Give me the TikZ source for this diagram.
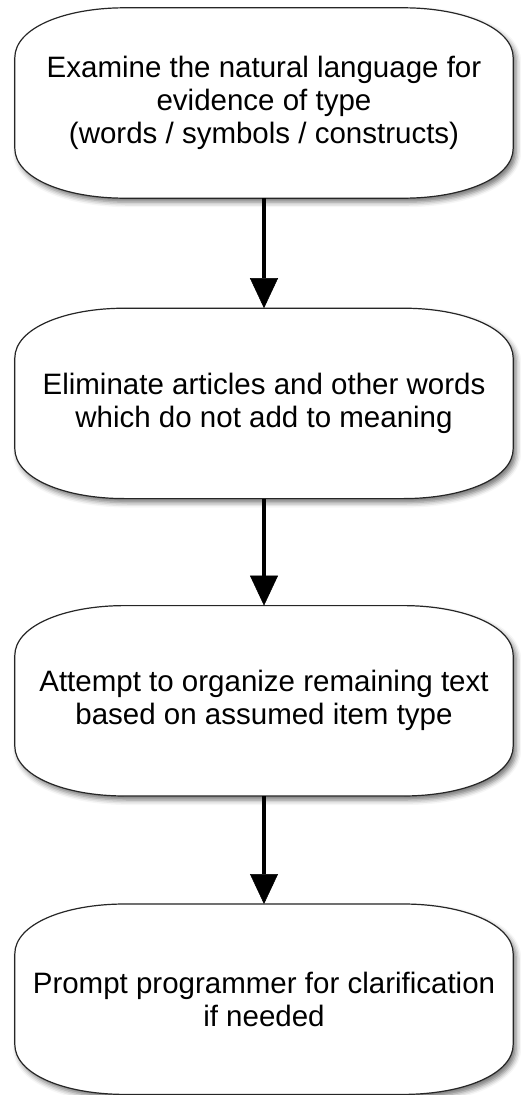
\documentclass[tikz,border=0pt]{standalone}
\usepackage{fontspec}
\setmainfont{Liberation Sans}
\usetikzlibrary{arrows.meta, positioning, shadows.blur}

% outline of a step box, drawn round a named node
\newcommand{\stepoutline}[1]{%
    \draw[stepline]
        ([xshift=110pt]#1.north west) -- ([xshift=-110pt]#1.north east)
        .. controls ([xshift=-50pt]#1.north east) and ([yshift=-20pt]#1.north east) .. ([yshift=-50pt]#1.north east)
        -- ([yshift=50pt]#1.south east)
        .. controls ([yshift=20pt]#1.south east) and ([xshift=-50pt]#1.south east) .. ([xshift=-110pt]#1.south east)
        -- ([xshift=110pt]#1.south west)
        .. controls ([xshift=50pt]#1.south west) and ([yshift=20pt]#1.south west) .. ([yshift=50pt]#1.south west)
        -- ([yshift=-50pt]#1.north west)
        .. controls ([yshift=-20pt]#1.north west) and ([xshift=50pt]#1.north west) .. cycle;
}

\tikzset{
    stepbox/.style={rectangle, minimum width=498pt, minimum height=190pt, inner sep=0pt,
        align=center, font=\fontsize{29.5pt}{33pt}\selectfont},
    stepline/.style={draw=black!85, line width=1.2pt, fill=white,
        blur shadow={shadow xshift=3pt, shadow yshift=-4pt, shadow blur radius=5pt, shadow opacity=55}},
    flow/.style={draw=black, line width=4.5pt,
        -{Triangle[length=30pt, width=28pt, line width=0.5pt, fill=black]}}
}

\begin{document}
\begin{tikzpicture}[x=1pt, y=1pt]

    \useasboundingbox (0,0) rectangle (520,-1095);

    % ==========================================
    % STEPS
    % ==========================================
    \node[stepbox] (examine) at (264,-103) {};
    \node[stepbox, below=110pt of examine] (eliminate) {};
    \node[stepbox, below=107pt of eliminate] (organize) {};
    \node[stepbox, below=108pt of organize] (prompt) {};

    \stepoutline{examine}
    \stepoutline{eliminate}
    \stepoutline{organize}
    \stepoutline{prompt}

    \node[stepbox] at (examine) {Examine the natural language for\\evidence of type\\(words / symbols / constructs)};
    \node[stepbox] at (eliminate) {Eliminate articles and other words\\which do not add to meaning};
    \node[stepbox] at (organize) {Attempt to organize remaining text\\based on assumed item type};
    \node[stepbox] at (prompt) {Prompt programmer for clarification\\if needed};

    % ==========================================
    % ARROWS
    % ==========================================
    \draw[flow] (examine.south) -- (eliminate.north);
    \draw[flow] (eliminate.south) -- (organize.north);
    \draw[flow] (organize.south) -- (prompt.north);

\end{tikzpicture}
\end{document}
